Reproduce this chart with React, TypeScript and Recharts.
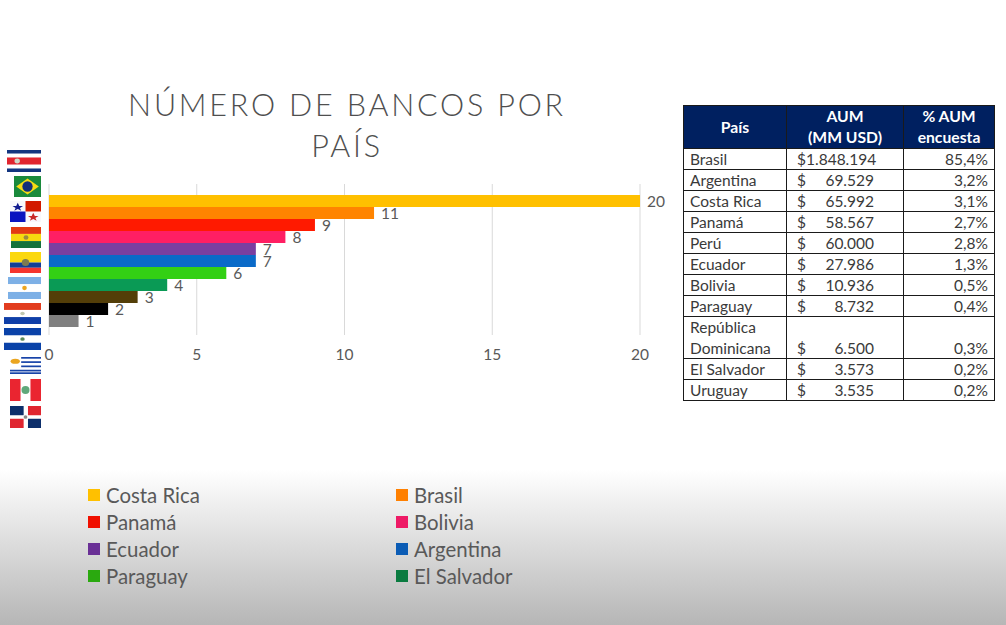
import React from "react";
import { BarChart, Bar, XAxis, YAxis, CartesianGrid, LabelList, Legend } from "recharts";

const seriesNames = ["Costa Rica", "Brasil", "Panamá", "Bolivia", "Ecuador", "Argentina", "Paraguay", "El Salvador", "Uruguay", "Perú", "República Dominicana"];
const seriesValues = [20, 11, 9, 8, 7, 7, 6, 4, 3, 2, 1];
const barColors = ["#ffc000", "#ff8400", "#ff1a00", "#ff1f63", "#7a3fa0", "#0a6ac8", "#33d014", "#0a9a55", "#533e08", "#000000", "#808080"];
const legendColors = ["#ffc000", "#ff8000", "#f01000", "#ee1a66", "#6a3096", "#0b5cb5", "#2aa90f", "#0a7b40"];
const legendNames = seriesNames.slice(0, 8);
const xTicks = [0, 5, 10, 15, 20];

const tableHeader = ["País", "AUM\n(MM USD)", "% AUM\nencuesta"];
const tableCountries = ["Brasil", "Argentina", "Costa Rica", "Panamá", "Perú", "Ecuador", "Bolivia", "Paraguay", "República\nDominicana", "El Salvador", "Uruguay"];
const tableAum = ["1.848.194", "69.529", "65.992", "58.567", "60.000", "27.986", "10.936", "8.732", "6.500", "3.573", "3.535"];
const tablePct = ["85,4%", "3,2%", "3,1%", "2,7%", "2,8%", "1,3%", "0,5%", "0,4%", "0,3%", "0,2%", "0,2%"];

const row: Record<string, string | number> = { group: "Bancos" };
seriesNames.forEach((n, i) => { row[n] = seriesValues[i]; });
const chartData = [row];

const FONT = "Lato, 'Open Sans', sans-serif";
const TEXT = "#595959";

function Flag({ x, y, w, h, children }: { x: number; y: number; w: number; h: number; children: React.ReactNode }) {
  return <svg style={{ position: "absolute", left: x, top: y }} width={w} height={h} viewBox="0 0 100 100" preserveAspectRatio="none">{children}</svg>;
}
const Dot = ({ cx = 50, cy = 50, r = 7, c = "#b89a3a" }: { cx?: number; cy?: number; r?: number; c?: string }) => (
  <ellipse cx={cx} cy={cy} rx={r} ry={r * 1.4} fill={c} />
);

function Flags() {
  return (
    <>
      <Flag x={7} y={150} w={34} h={22}>
        <rect width="100" height="16" fill="#13357f" /><rect y="34" width="100" height="32" fill="#e1252f" /><rect y="84" width="100" height="16" fill="#13357f" /><Dot r={8} c="#cfd8c8" cx={30} />
      </Flag>
      <Flag x={14} y={176} w={27} h={21}>
        <rect width="100" height="100" fill="#1a8a3c" /><polygon points="50,12 92,50 50,88 8,50" fill="#f6dc13" /><ellipse cx="50" cy="50" rx="19" ry="25" fill="#12307a" />
      </Flag>
      <Flag x={10} y={201} w={31} h={21}>
        <rect width="100" height="100" fill="#f8f8fc" /><rect x="50" width="50" height="50" fill="#d21a00" /><rect y="50" width="50" height="50" fill="#0a14c0" />
        <polygon points="25,8 30,24 42,24 32,33 36,46 25,38 14,46 18,33 8,24 20,24" fill="#101a90" /><polygon points="75,56 80,72 92,72 82,81 86,94 75,86 64,94 68,81 58,72 70,72" fill="#c82828" />
      </Flag>
      <Flag x={11} y={227} w={30} h={21}>
        <rect width="100" height="33" fill="#e33a12" /><rect y="33" width="100" height="34" fill="#f6d90f" /><rect y="67" width="100" height="33" fill="#14723a" /><Dot r={8} c="#9a8a40" />
      </Flag>
      <Flag x={10} y={252} w={31} h={21}>
        <rect width="100" height="50" fill="#fbd80e" /><rect y="50" width="100" height="25" fill="#133f96" /><rect y="75" width="100" height="25" fill="#f5352f" /><Dot r={12} c="#7d7a50" />
      </Flag>
      <Flag x={8} y={277} w={33} h={22}>
        <rect width="100" height="100" fill="#ffffff" /><rect width="100" height="32" fill="#7db0e6" /><rect y="68" width="100" height="32" fill="#7db0e6" /><Dot r={7} c="#eda520" />
      </Flag>
      <Flag x={4} y={303} w={37} h={21}>
        <rect width="100" height="33" fill="#e23c1e" /><rect y="67" width="100" height="33" fill="#0f3fa8" /><Dot r={6} c="#c0c8b0" cx={50} />
      </Flag>
      <Flag x={4} y={328} w={37} h={22}>
        <rect width="100" height="33" fill="#0a42a8" /><rect y="67" width="100" height="33" fill="#0a42a8" /><Dot r={6} c="#5a8a5a" />
      </Flag>
      <Flag x={10} y={357} w={31} h={17}>
        {[0, 25, 50, 75, 90].map((v, i) => <rect key={i} x={i < 3 ? 36 : 0} y={v} width={i < 3 ? 64 : 100} height="10" fill="#1844a8" />)}
        <circle cx="17" cy="25" r="15" fill="#eaa520" />
      </Flag>
      <Flag x={10} y={379} w={31} h={22}>
        <rect width="34" height="100" fill="#ea2530" /><rect x="66" width="34" height="100" fill="#ea2530" /><Dot r={13} c="#5fa87a" />
      </Flag>
      <Flag x={10} y={406} w={31} h={22}>
        <rect width="44" height="42" fill="#0d2f6b" /><rect x="58" width="42" height="42" fill="#e02630" /><rect y="58" width="44" height="42" fill="#e02630" /><rect x="58" y="58" width="42" height="42" fill="#0d2f6b" /><Dot r={6} c="#8a8a8a" />
      </Flag>
    </>
  );
}

const border = "1.5px solid #1a1a1a";
const cell: React.CSSProperties = { border, padding: "0 6px", fontSize: 15.5, lineHeight: "20px", height: 20, boxSizing: "border-box", color: "#3a3a3a", whiteSpace: "pre-line", verticalAlign: "bottom" };
const head: React.CSSProperties = { border, background: "#002060", color: "#ffffff", fontWeight: 700, fontSize: 15.7, lineHeight: "21px", textAlign: "center", whiteSpace: "pre-line", padding: 0, verticalAlign: "middle" };

function Table() {
  return (
    <table style={{ position: "absolute", left: 683, top: 105, width: 311, tableLayout: "fixed", borderCollapse: "collapse", fontFamily: FONT }}>
      <colgroup><col style={{ width: 103 }} /><col style={{ width: 117 }} /><col style={{ width: 91 }} /></colgroup>
      <thead>
        <tr style={{ height: 43 }}>{tableHeader.map((h) => <th key={h} style={head}>{h}</th>)}</tr>
      </thead>
      <tbody>
        {tableCountries.map((c, i) => (
          <tr key={c}>
            <td style={{ ...cell, lineHeight: c.includes("\n") ? "20.5px" : "20px" }}>{c}</td>
            <td style={{ ...cell, padding: "0 29px 0 10px" }}>
              {i === 0 ? <span>${tableAum[i]}</span> : (
                <span style={{ display: "flex", justifyContent: "space-between" }}><span>$</span><span>{tableAum[i]}</span></span>
              )}
            </td>
            <td style={{ ...cell, textAlign: "right" }}>{tablePct[i]}</td>
          </tr>
        ))}
      </tbody>
    </table>
  );
}

function LegendContent() {
  return (
    <div style={{ display: "grid", gridTemplateColumns: "308px 200px", gridAutoRows: "27px", fontFamily: FONT, fontSize: 20.4, color: TEXT }}>
      {legendNames.map((n, i) => (
        <div key={n} style={{ display: "flex", alignItems: "center", height: 27 }}>
          <span style={{ width: 12, height: 12, background: legendColors[i], marginRight: 6, flex: "none" }} />
          <span>{n}</span>
        </div>
      ))}
    </div>
  );
}

export default function App() {
  return (
    <div style={{ position: "absolute", left: 0, top: 0, width: 1006, height: 625, overflow: "hidden", background: "linear-gradient(to bottom, #ffffff 0px, #ffffff 470px, #b6b6b6 625px)" }}>
      <div style={{ position: "absolute", left: 97, top: 84, width: 500, textAlign: "center", fontFamily: FONT, fontSize: 30.5, lineHeight: "41px", letterSpacing: 2.8, color: "#4f4f4f", fontWeight: 300 }}>
        NÚMERO DE BANCOS POR<br />PAÍS
      </div>
      <div style={{ position: "absolute", left: 0, top: 0 }}>
        <BarChart width={1006} height={625} data={chartData} layout="vertical" barCategoryGap={11} barGap={0} margin={{ left: 49, right: 366, top: 184, bottom: 260 }}>
          <CartesianGrid horizontal={false} stroke="#d9d9d9" />
          <XAxis type="number" domain={[0, 20]} ticks={xTicks} axisLine={false} tickLine={false} height={30} tick={{ fill: TEXT, fontSize: 15.5, fontFamily: FONT }} tickMargin={8} />
          <YAxis type="category" dataKey="group" hide />
          <Legend verticalAlign="middle" layout="horizontal" content={<LegendContent />} wrapperStyle={{ position: "absolute", left: 88, top: 481, width: 520, bottom: "auto" }} />
          {seriesNames.map((n, i) => (
            <Bar key={n} dataKey={n} fill={barColors[i]} isAnimationActive={false}>
              <LabelList dataKey={n} position="right" offset={7} fill={TEXT} fontSize={15.5} fontFamily={FONT} />
            </Bar>
          ))}
        </BarChart>
      </div>
      <Flags />
      <Table />
    </div>
  );
}
